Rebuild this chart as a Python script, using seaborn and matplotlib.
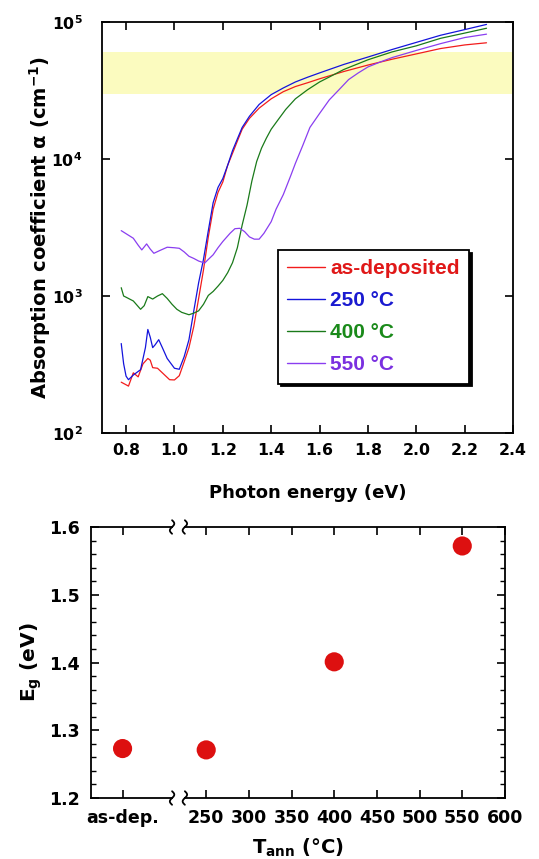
import numpy as np
import pandas as pd
import matplotlib
matplotlib.use("Agg")
import matplotlib.pyplot as plt
import matplotlib.ticker as mticker
from matplotlib.patches import Rectangle
import seaborn as sns

# ---------------- data: top panel (absorption spectra) ----------------
x_asdep = [0.78, 0.80, 0.81, 0.83, 0.85, 0.87, 0.89, 0.90, 0.91, 0.93, 0.95, 0.98, 1.00,
           1.02, 1.04, 1.06, 1.08, 1.10, 1.12, 1.14, 1.16, 1.18, 1.20, 1.22, 1.24, 1.26,
           1.28, 1.31, 1.35, 1.40, 1.45, 1.50, 1.55, 1.60, 1.70, 1.80, 1.90, 2.00, 2.10,
           2.20, 2.29]
y_asdep = [235, 225, 220, 275, 257, 320, 350, 340, 300, 297, 275, 245, 244,
           262, 330, 420, 600, 960, 1550, 2700, 4300, 5700, 6800, 9000, 11000, 13500,
           16500, 19800, 23500, 27500, 31000, 33800, 36000, 38500, 43500, 48500, 53500, 58500, 64000,
           68000, 70500]

x_250 = [0.78, 0.79, 0.80, 0.81, 0.83, 0.86, 0.88, 0.89, 0.90, 0.91, 0.92, 0.935, 0.95,
         0.97, 1.00, 1.02, 1.04, 1.06, 1.08, 1.10, 1.12, 1.14, 1.16, 1.18, 1.20, 1.22,
         1.24, 1.26, 1.28, 1.31, 1.35, 1.40, 1.45, 1.50, 1.55, 1.60, 1.70, 1.80, 1.90,
         2.00, 2.10, 2.20, 2.29]
y_250 = [450, 320, 260, 245, 265, 290, 420, 570, 500, 420, 440, 480, 420,
         350, 297, 292, 360, 480, 780, 1250, 1850, 3000, 4800, 6200, 7200, 9000,
         11500, 14000, 17000, 20500, 25000, 29500, 33000, 36500, 39500, 42500, 49000, 55500, 63000,
         71000, 80000, 88000, 96000]

x_400 = [0.78, 0.79, 0.80, 0.83, 0.86, 0.875, 0.89, 0.91, 0.93, 0.95, 0.97, 0.99, 1.01,
         1.03, 1.06, 1.08, 1.10, 1.12, 1.14, 1.16, 1.18, 1.20, 1.22, 1.24, 1.26, 1.28,
         1.30, 1.32, 1.34, 1.36, 1.38, 1.40, 1.43, 1.46, 1.50, 1.55, 1.60, 1.65, 1.70,
         1.80, 1.90, 2.00, 2.10, 2.20, 2.29]
y_400 = [1150, 1000, 980, 920, 800, 850, 990, 950, 1000, 1040, 960, 870, 800,
         760, 730, 750, 780, 870, 1010, 1080, 1180, 1300, 1480, 1750, 2250, 3300,
         4600, 6900, 9600, 12000, 14200, 16500, 19500, 23000, 27500, 32000, 36500, 40500, 45000,
         53000, 60500, 67000, 76000, 83000, 90000]

x_550 = [0.78, 0.80, 0.83, 0.85, 0.865, 0.885, 0.90, 0.915, 0.94, 0.97, 1.00, 1.02, 1.04,
         1.06, 1.08, 1.10, 1.125, 1.14, 1.16, 1.18, 1.20, 1.23, 1.25, 1.27, 1.29, 1.31,
         1.33, 1.35, 1.37, 1.40, 1.42, 1.45, 1.48, 1.50, 1.53, 1.56, 1.60, 1.64, 1.68,
         1.72, 1.76, 1.80, 1.85, 1.90, 2.00, 2.10, 2.20, 2.29]
y_550 = [3000, 2850, 2640, 2350, 2170, 2400, 2200, 2050, 2150, 2270, 2250, 2230, 2100,
         1950, 1880, 1800, 1740, 1850, 2000, 2250, 2500, 2870, 3100, 3120, 2950, 2700,
         2600, 2600, 2870, 3490, 4300, 5500, 7500, 9300, 12500, 17000, 21500, 27000, 32000,
         38000, 42500, 47000, 51000, 55000, 62000, 69500, 77000, 81500]

series_names = ["as-deposited", "250 °C", "400 °C", "550 °C"]
line_colors = ["#f21c1c", "#1414dc", "#1a7a1a", "#8a3ef0"]
text_colors = ["#e01818", "#1a1ad0", "#1a8a1a", "#7a30e0"]

band_low, band_high = 3.0e4, 6.0e4

# ---------------- data: bottom panel (band gap) ----------------
t_pos = [152, 250, 400, 550]
eg_values = [1.273, 1.271, 1.401, 1.572]
xtick_pos = [152, 250, 300, 350, 400, 450, 500, 550, 600]
xtick_labels = ["as-dep.", "250", "300", "350", "400", "450", "500", "550", "600"]

# ---------------- style ----------------
sns.set_style("ticks")
plt.rcParams["font.family"] = ["DejaVu Sans"]
plt.rcParams["font.weight"] = "bold"
plt.rcParams["axes.labelweight"] = "bold"
plt.rcParams["text.color"] = "black"
plt.rcParams["axes.labelcolor"] = "black"
plt.rcParams["xtick.color"] = "black"
plt.rcParams["ytick.color"] = "black"
plt.rcParams["mathtext.fontset"] = "custom"
plt.rcParams["mathtext.rm"] = "DejaVu Sans:bold"
plt.rcParams["mathtext.it"] = "DejaVu Sans:bold:italic"
plt.rcParams["mathtext.bf"] = "DejaVu Sans:bold"
plt.rcParams["mathtext.default"] = "rm"

fig = plt.figure(figsize=(5.39, 8.59), dpi=100)
ax1 = fig.add_axes([0.189, 0.4959, 0.763, 0.4785])
ax2 = fig.add_axes([0.1688, 0.071, 0.768, 0.3155])

# ---------------- top panel ----------------
frames = []
for name, xs, ys in zip(series_names,
                        [x_asdep, x_250, x_400, x_550],
                        [y_asdep, y_250, y_400, y_550]):
    frames.append(pd.DataFrame({"E": xs, "alpha": ys, "sample": name}))
df = pd.concat(frames, ignore_index=True)

ax1.axhspan(band_low, band_high, color="#fbfbbf", zorder=0, lw=0)
sns.lineplot(data=df, x="E", y="alpha", hue="sample", hue_order=series_names,
             palette=line_colors, linewidth=0.9, ax=ax1, sort=False,
             estimator=None, legend=True)
ax1.set_yscale("log")
ax1.set_xlim(0.7, 2.4)
ax1.set_ylim(1e2, 1e5)
ax1.set_xticks([0.8, 1.0, 1.2, 1.4, 1.6, 1.8, 2.0, 2.2, 2.4])
ax1.xaxis.set_major_formatter(mticker.FormatStrFormatter("%.1f"))
ax1.set_yticks([1e2, 1e3, 1e4, 1e5])
ax1.set_yticklabels(["10$^{2}$", "10$^{3}$", "10$^{4}$", "10$^{5}$"])
ax1.yaxis.set_minor_locator(mticker.NullLocator())
ax1.tick_params(axis="both", which="major", direction="in", length=6, width=1.2,
                top=True, right=True, labelsize=11.3, colors="black")
ax1.tick_params(axis="x", pad=7)
ax1.tick_params(axis="y", pad=14)
ax1.set_xlabel("Photon energy (eV)", fontsize=13, labelpad=19)
ax1.set_ylabel("Absorption coefficient α (cm$^{-1}$)", fontsize=14, labelpad=-1)
for s in ax1.spines.values():
    s.set_linewidth(1.3)
    s.set_color("black")

leg = ax1.legend(loc="upper left", bbox_to_anchor=(0.428, 0.445), frameon=True,
                 fancybox=False, edgecolor="black", framealpha=1,
                 shadow={"color": "black", "alpha": 1.0},
                 prop={"family": "Liberation Sans", "weight": "bold", "size": 15},
                 handlelength=1.8, handletextpad=0.25, labelspacing=0.62,
                 borderpad=0.45, borderaxespad=0)
leg.get_frame().set_linewidth(1.3)
for txt, c in zip(leg.get_texts(), text_colors):
    txt.set_color(c)
for h in leg.get_lines():
    h.set_linewidth(1.0)

# ---------------- bottom panel ----------------
df2 = pd.DataFrame({"T": t_pos, "Eg": eg_values})
sns.scatterplot(data=df2, x="T", y="Eg", s=190, color="#dd1010", edgecolor="none",
                ax=ax2, zorder=3, clip_on=False)
ax2.set_xlim(115, 600)
ax2.set_ylim(1.2, 1.6)
ax2.set_xticks(xtick_pos)
ax2.set_xticklabels(xtick_labels)
ax2.set_yticks([1.2, 1.3, 1.4, 1.5, 1.6])
ax2.yaxis.set_major_formatter(mticker.FormatStrFormatter("%.1f"))
ax2.yaxis.set_minor_locator(mticker.MultipleLocator(0.02))
ax2.tick_params(axis="both", which="major", direction="in", length=6, width=1.2,
                top=True, right=True, labelsize=12.5, colors="black")
ax2.tick_params(axis="y", which="minor", direction="in", length=3.5, width=1.0,
                left=True, right=True, colors="black")
ax2.tick_params(axis="x", pad=8)
ax2.tick_params(axis="y", pad=8)
ax2.set_xlabel("T$_{ann}$ (°C)", fontsize=14, labelpad=7)
ax2.set_ylabel("E$_{g}$ (eV)", fontsize=14.5, labelpad=4)
for s in ax2.spines.values():
    s.set_linewidth(1.3)
    s.set_color("black")

# axis-break marks on top and bottom spines
trans = ax2.get_xaxis_transform()
for yb in (0.0, 1.0):
    ax2.add_patch(Rectangle((211, yb - 0.012), 13, 0.024, transform=trans,
                            facecolor="white", edgecolor="none", clip_on=False, zorder=5))
    tt = np.linspace(-1, 1, 40)
    for x0 in (210, 225):
        ax2.plot(x0 + 2.6 * np.sin(np.pi * tt), yb + 0.025 * tt, color="black",
                 lw=1.3, transform=trans, clip_on=False, zorder=6)

fig.savefig("out.png", dpi=100)
